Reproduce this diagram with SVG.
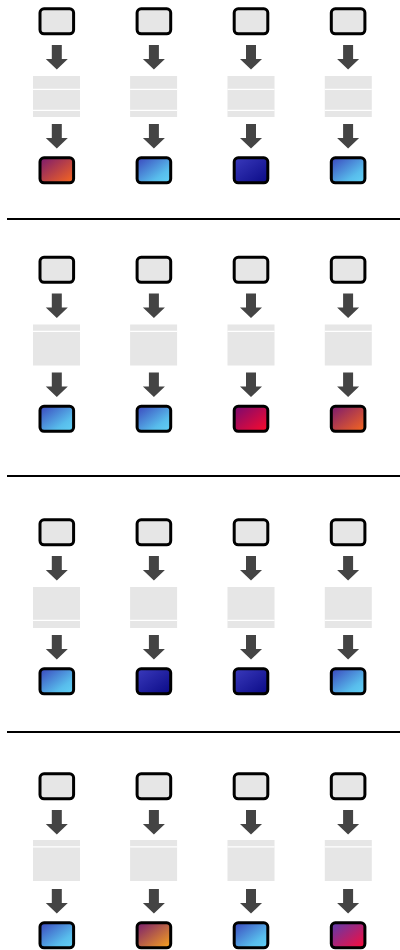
<svg xmlns="http://www.w3.org/2000/svg" width="400" height="950" viewBox="0 0 400 950">
<style>
.box{stroke:#000;stroke-width:3}
.in{fill:#e6e6e6}
.blk{fill:#e6e6e6}
.wl{stroke:#fff;stroke-width:1.2}
.arr{fill:#444}
.sep{stroke:#000;stroke-width:2}
</style>
<defs>
<linearGradient id="po" x1="0" y1="0" x2="1" y2="1"><stop offset="0" stop-color="#7a1a70"/><stop offset="1" stop-color="#f9681d"/></linearGradient>
<linearGradient id="lb" x1="0" y1="0" x2="1" y2="1"><stop offset="0" stop-color="#3a46bd"/><stop offset="0.7" stop-color="#58bdec"/><stop offset="1" stop-color="#62d2f6"/></linearGradient>
<linearGradient id="db" x1="0" y1="0" x2="1" y2="1"><stop offset="0" stop-color="#3a3abc"/><stop offset="1" stop-color="#0a0a86"/></linearGradient>
<linearGradient id="pr" x1="0" y1="0" x2="1" y2="1"><stop offset="0" stop-color="#770a72"/><stop offset="1" stop-color="#ff0a2a"/></linearGradient>
<linearGradient id="py" x1="0" y1="0" x2="1" y2="1"><stop offset="0" stop-color="#781c70"/><stop offset="1" stop-color="#faa51c"/></linearGradient>
<linearGradient id="br" x1="0" y1="0" x2="1" y2="1"><stop offset="0" stop-color="#5a3cb0"/><stop offset="1" stop-color="#ff0a38"/></linearGradient>
<g id="top"><rect class="box in" x="-16.8" y="8.8" width="33.6" height="25" rx="4"/></g>
<g id="ar"><polygon class="arr" points="-5,45 5,45 5,59 11,59 0,69.5 -11,59 -5,59"/></g>
</defs>

<g id="separators">
<line class="sep" x1="7" y1="219" x2="400" y2="219"/>
<line class="sep" x1="7" y1="476" x2="400" y2="476"/>
<line class="sep" x1="7" y1="732" x2="400" y2="732"/>
</g>

<!-- Section 1 -->
<g transform="translate(0,0)">
<g id="connectors-s1">
<use href="#ar" x="56.8"/><use href="#ar" x="56.8" y="79"/>
<use href="#ar" x="153.9"/><use href="#ar" x="153.9" y="79"/>
<use href="#ar" x="251"/><use href="#ar" x="251" y="79"/>
<use href="#ar" x="348.1"/><use href="#ar" x="348.1" y="79"/>
</g>
<g id="s1c1"><use href="#top" x="56.8"/><rect class="blk" x="33" y="76" width="47" height="41"/><line class="wl" x1="33" y1="89.3" x2="80" y2="89.3"/><line class="wl" x1="33" y1="110.4" x2="80" y2="110.4"/><rect class="box" fill="url(#po)" x="40" y="157.8" width="33.6" height="25" rx="4"/></g>
<g id="s1c2"><use href="#top" x="153.9"/><rect class="blk" x="130.1" y="76" width="47" height="41"/><line class="wl" x1="130.1" y1="89.3" x2="177.1" y2="89.3"/><line class="wl" x1="130.1" y1="110.4" x2="177.1" y2="110.4"/><rect class="box" fill="url(#lb)" x="137.1" y="157.8" width="33.6" height="25" rx="4"/></g>
<g id="s1c3"><use href="#top" x="251"/><rect class="blk" x="227.5" y="76" width="47" height="41"/><line class="wl" x1="227.5" y1="89.3" x2="274.5" y2="89.3"/><line class="wl" x1="227.5" y1="110.4" x2="274.5" y2="110.4"/><rect class="box" fill="url(#db)" x="234.2" y="157.8" width="33.6" height="25" rx="4"/></g>
<g id="s1c4"><use href="#top" x="348.1"/><rect class="blk" x="324.8" y="76" width="47" height="41"/><line class="wl" x1="324.8" y1="89.3" x2="371.8" y2="89.3"/><line class="wl" x1="324.8" y1="110.4" x2="371.8" y2="110.4"/><rect class="box" fill="url(#lb)" x="331.3" y="157.8" width="33.6" height="25" rx="4"/></g>
</g>

<!-- Section 2 -->
<g transform="translate(0,248.5)">
<g id="connectors-s2">
<use href="#ar" x="56.8"/><use href="#ar" x="56.8" y="79"/>
<use href="#ar" x="153.9"/><use href="#ar" x="153.9" y="79"/>
<use href="#ar" x="251"/><use href="#ar" x="251" y="79"/>
<use href="#ar" x="348.1"/><use href="#ar" x="348.1" y="79"/>
</g>
<g id="s2c1"><use href="#top" x="56.8"/><rect class="blk" x="33" y="76" width="47" height="41"/><line class="wl" x1="33" y1="82.8" x2="80" y2="82.8"/><rect class="box" fill="url(#lb)" x="40" y="157.8" width="33.6" height="25" rx="4"/></g>
<g id="s2c2"><use href="#top" x="153.9"/><rect class="blk" x="130.1" y="76" width="47" height="41"/><line class="wl" x1="130.1" y1="82.8" x2="177.1" y2="82.8"/><rect class="box" fill="url(#lb)" x="137.1" y="157.8" width="33.6" height="25" rx="4"/></g>
<g id="s2c3"><use href="#top" x="251"/><rect class="blk" x="227.5" y="76" width="47" height="41"/><line class="wl" x1="227.5" y1="82.8" x2="274.5" y2="82.8"/><rect class="box" fill="url(#pr)" x="234.2" y="157.8" width="33.6" height="25" rx="4"/></g>
<g id="s2c4"><use href="#top" x="348.1"/><rect class="blk" x="324.8" y="76" width="47" height="41"/><line class="wl" x1="324.8" y1="82.8" x2="371.8" y2="82.8"/><rect class="box" fill="url(#po)" x="331.3" y="157.8" width="33.6" height="25" rx="4"/></g>
</g>

<!-- Section 3 -->
<g transform="translate(0,511)">
<g id="connectors-s3">
<use href="#ar" x="56.8"/><use href="#ar" x="56.8" y="79"/>
<use href="#ar" x="153.9"/><use href="#ar" x="153.9" y="79"/>
<use href="#ar" x="251"/><use href="#ar" x="251" y="79"/>
<use href="#ar" x="348.1"/><use href="#ar" x="348.1" y="79"/>
</g>
<g id="s3c1"><use href="#top" x="56.8"/><rect class="blk" x="33" y="76" width="47" height="41"/><line class="wl" x1="33" y1="109.3" x2="80" y2="109.3"/><rect class="box" fill="url(#lb)" x="40" y="157.8" width="33.6" height="25" rx="4"/></g>
<g id="s3c2"><use href="#top" x="153.9"/><rect class="blk" x="130.1" y="76" width="47" height="41"/><line class="wl" x1="130.1" y1="109.3" x2="177.1" y2="109.3"/><rect class="box" fill="url(#db)" x="137.1" y="157.8" width="33.6" height="25" rx="4"/></g>
<g id="s3c3"><use href="#top" x="251"/><rect class="blk" x="227.5" y="76" width="47" height="41"/><line class="wl" x1="227.5" y1="109.3" x2="274.5" y2="109.3"/><rect class="box" fill="url(#db)" x="234.2" y="157.8" width="33.6" height="25" rx="4"/></g>
<g id="s3c4"><use href="#top" x="348.1"/><rect class="blk" x="324.8" y="76" width="47" height="41"/><line class="wl" x1="324.8" y1="109.3" x2="371.8" y2="109.3"/><rect class="box" fill="url(#lb)" x="331.3" y="157.8" width="33.6" height="25" rx="4"/></g>
</g>

<!-- Section 4 -->
<g transform="translate(0,765)">
<g id="connectors-s4">
<use href="#ar" x="56.8"/><use href="#ar" x="56.8" y="79"/>
<use href="#ar" x="153.9"/><use href="#ar" x="153.9" y="79"/>
<use href="#ar" x="251"/><use href="#ar" x="251" y="79"/>
<use href="#ar" x="348.1"/><use href="#ar" x="348.1" y="79"/>
</g>
<g id="s4c1"><use href="#top" x="56.8"/><rect class="blk" x="33" y="75" width="47" height="41"/><line class="wl" x1="33" y1="81.8" x2="80" y2="81.8"/><rect class="box" fill="url(#lb)" x="40" y="157.8" width="33.6" height="25" rx="4"/></g>
<g id="s4c2"><use href="#top" x="153.9"/><rect class="blk" x="130.1" y="75" width="47" height="41"/><line class="wl" x1="130.1" y1="81.8" x2="177.1" y2="81.8"/><rect class="box" fill="url(#py)" x="137.1" y="157.8" width="33.6" height="25" rx="4"/></g>
<g id="s4c3"><use href="#top" x="251"/><rect class="blk" x="227.5" y="75" width="47" height="41"/><line class="wl" x1="227.5" y1="81.8" x2="274.5" y2="81.8"/><rect class="box" fill="url(#lb)" x="234.2" y="157.8" width="33.6" height="25" rx="4"/></g>
<g id="s4c4"><use href="#top" x="348.1"/><rect class="blk" x="324.8" y="75" width="47" height="41"/><line class="wl" x1="324.8" y1="81.8" x2="371.8" y2="81.8"/><rect class="box" fill="url(#br)" x="331.3" y="157.8" width="33.6" height="25" rx="4"/></g>
</g>
</svg>
